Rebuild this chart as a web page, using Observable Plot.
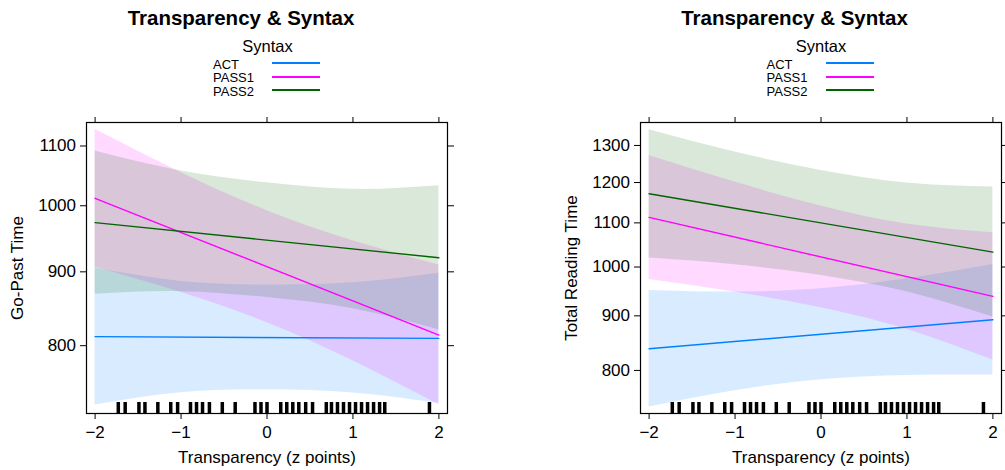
<!DOCTYPE html>
<html>
<head>
<meta charset="utf-8">
<script src="https://cdn.jsdelivr.net/npm/d3@7"></script>
<script src="https://cdn.jsdelivr.net/npm/@observablehq/plot@0.6"></script>
<style>
  html, body { margin: 0; padding: 0; background: #fff; }
  body { width: 1005px; height: 470px; overflow: hidden; position: relative;
         font-family: "Liberation Sans", Arial, Helvetica, sans-serif; color: #000; }
  .panel { position: absolute; top: 0; width: 460px; height: 470px; }
  .title { position: absolute; top: 7.6px; left: 241px; transform: translateX(-50%);
           white-space: nowrap; font-weight: bold; font-size: 20.5px; line-height: 20.5px; }
  .legtitle { position: absolute; top: 37.5px; left: 267.5px; transform: translateX(-50%);
              white-space: nowrap; font-size: 16.5px; line-height: 16.5px; }
  .legitem { position: absolute; left: 213px; font-size: 13px; line-height: 13px; white-space: nowrap; }
  .legline { position: absolute; left: 272px; width: 48px; height: 2px; }
  .chart { position: absolute; left: 0; top: 112px; }
</style>
</head>
<body>
<script>
// ---------------- data ----------------
const syntaxLevels = ["ACT", "PASS1", "PASS2"];
const xTicks = [-2, -1, 0, 1, 2];
const lineX = [-2, 2];
const bandX = [-2, -1, 0, 1, 2];

// rug: observed transparency values (z points)
const rug = [-1.73, -1.65, -1.49, -1.42, -1.27, -1.12, -1.04, -0.89, -0.82, -0.75, -0.67, -0.52, -0.37,
             -0.14, -0.07, 0.0, 0.16, 0.23, 0.30, 0.37, 0.45, 0.53, 0.69, 0.75, 0.82, 0.89, 0.96,
             1.03, 1.10, 1.17, 1.24, 1.31, 1.37, 1.89];

// Panel 1: Go-Past Time
const gpYTicks = [800, 900, 1000, 1100];
const gpActLine = [811.6, 809.4];
const gpPass1Line = [1011.9, 813.7];
const gpPass2Line = [973.4, 920.5];
const gpActLower = [727.8, 742.2, 745.8, 742.0, 729.7];
const gpActUpper = [905.0, 886.4, 881.3, 884.3, 897.8];
const gpPass1Lower = [906.5, 870.8, 829.9, 780.9, 727.8];
const gpPass1Upper = [1129.6, 1054.5, 992.2, 945.6, 909.8];
const gpPass2Lower = [868.3, 872.0, 863.9, 848.6, 820.7];
const gpPass2Upper = [1091.2, 1057.0, 1037.2, 1026.5, 1032.5];

// Panel 2: Total Reading Time
const trYTicks = [800, 900, 1000, 1100, 1200, 1300];
const trActLine = [838.3, 892.4];
const trPass1Line = [1113.0, 938.5];
const trPass2Line = [1171.3, 1032.8];
const trActLower = [739.1, 765.7, 784.0, 791.4, 792.0];
const trActUpper = [950.8, 947.4, 954.2, 975.0, 1005.6];
const trPass1Lower = [973.6, 947.4, 915.9, 874.0, 818.0];
const trPass1Upper = [1272.4, 1201.2, 1140.6, 1097.1, 1076.8];
const trPass2Lower = [1019.5, 1004.9, 982.1, 948.0, 897.6];
const trPass2Upper = [1344.8, 1281.6, 1231.8, 1198.6, 1188.3];

// ---------------- build ----------------
const colors = ["#0080ff", "#ff00ff", "#006400"];
const FONT = '"Liberation Sans", Arial, Helvetica, sans-serif';
const intFmt = d3.format("d");

function bandRows(lowers, uppers) {
  const rows = [];
  syntaxLevels.forEach((s, k) => bandX.forEach((x, i) =>
    rows.push({syntax: s, x, lower: lowers[k][i], upper: uppers[k][i]})));
  return rows;
}
function lineRows(lines) {
  const rows = [];
  syntaxLevels.forEach((s, k) => lineX.forEach((x, i) => rows.push({syntax: s, x, value: lines[k][i]})));
  return rows;
}

function makeChart(cfg) {
  return Plot.plot({
    width: 460, height: 358,
    marginTop: 10, marginBottom: 57, marginLeft: 86, marginRight: 13,
    style: {fontFamily: FONT, fontSize: "17px", background: "transparent", overflow: "visible", color: "black"},
    x: {domain: [-2.1, 2.1]},
    y: {type: "log", domain: cfg.yDomain},
    color: {domain: syntaxLevels, range: colors},
    marks: [
      Plot.areaY(cfg.bands, {x: "x", y1: "lower", y2: "upper", z: "syntax", fill: "syntax", fillOpacity: 0.15, curve: "natural"}),
      Plot.line(cfg.lines, {x: "x", y: "value", z: "syntax", stroke: "syntax", strokeWidth: 1.4}),
      Plot.ruleX(rug, {stroke: "black", strokeWidth: 3.5, insetTop: 280}),
      Plot.frame({stroke: "black", strokeWidth: 1.2}),
      Plot.axisX({ticks: xTicks, tickSize: 6, tickPadding: 6, tickFormat: intFmt, label: "Transparency (z points)",
                  labelAnchor: "center", labelArrow: "none", labelOffset: 49.5}),
      Plot.axisX({anchor: "top", ticks: xTicks, tickSize: 6, tickFormat: () => "", label: null}),
      Plot.axisY({ticks: cfg.yTicks, tickSize: 6, tickFormat: () => "",
                  label: cfg.yLabel, labelAnchor: "center", labelArrow: "none", labelOffset: 76}),
      Plot.text(cfg.yTicks, {y: d => d, text: d => intFmt(d), frameAnchor: "left", textAnchor: "end", dx: -10.5}),
      Plot.axisY({anchor: "right", ticks: cfg.yTicks, tickSize: 6, tickFormat: () => "", label: null})
    ]
  });
}

function makePanel(left, cfg) {
  const panel = document.createElement("div");
  panel.className = "panel";
  panel.style.left = left + "px";
  const t = document.createElement("div"); t.className = "title"; t.textContent = "Transparency & Syntax"; panel.appendChild(t);
  const lt = document.createElement("div"); lt.className = "legtitle"; lt.textContent = "Syntax"; panel.appendChild(lt);
  const tops = [57.5, 71, 84.5], lineTops = [62, 76, 89];
  syntaxLevels.forEach((s, i) => {
    const it = document.createElement("div"); it.className = "legitem"; it.style.top = tops[i] + "px"; it.textContent = s; panel.appendChild(it);
    const ln = document.createElement("div"); ln.className = "legline"; ln.style.top = lineTops[i] + "px"; ln.style.background = colors[i]; panel.appendChild(ln);
  });
  const chartDiv = document.createElement("div"); chartDiv.className = "chart";
  chartDiv.appendChild(makeChart(cfg));
  panel.appendChild(chartDiv);
  document.body.appendChild(panel);
}

makePanel(0, {
  yDomain: [718, 1142], yTicks: gpYTicks, yLabel: "Go-Past Time",
  bands: bandRows([gpActLower, gpPass1Lower, gpPass2Lower], [gpActUpper, gpPass1Upper, gpPass2Upper]),
  lines: lineRows([gpActLine, gpPass1Line, gpPass2Line])
});
makePanel(553.5, {
  yDomain: [729, 1366], yTicks: trYTicks, yLabel: "Total Reading Time",
  bands: bandRows([trActLower, trPass1Lower, trPass2Lower], [trActUpper, trPass1Upper, trPass2Upper]),
  lines: lineRows([trActLine, trPass1Line, trPass2Line])
});
</script>
</body>
</html>
